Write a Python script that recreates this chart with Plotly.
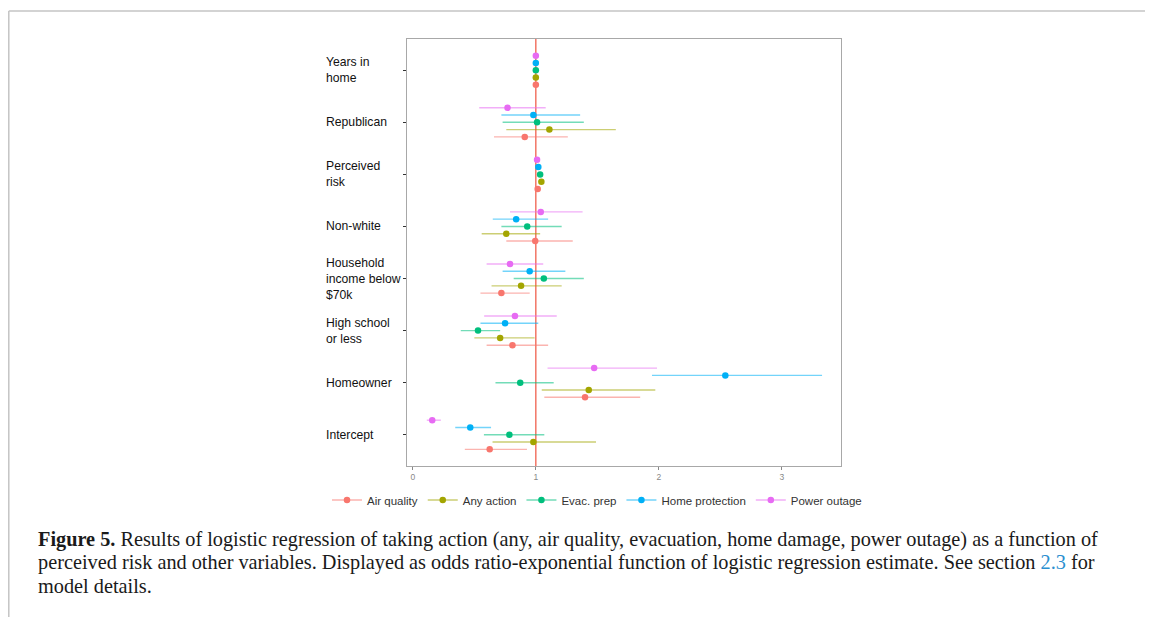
import plotly.graph_objects as go

# ---------------- data ----------------
categories = ["Years in<br>home", "Republican", "Perceived<br>risk", "Non-white",
              "Household<br>income below<br>$70k", "High school<br>or less",
              "Homeowner", "Intercept"]

series_names = ["Air quality", "Any action", "Evac. prep", "Home protection", "Power outage"]
series_colors = ["#F8766D", "#A3A500", "#00BF7D", "#00B0F6", "#E76BF3"]
series_err_colors = ["rgba(248,118,109,0.55)", "rgba(163,165,0,0.55)", "rgba(0,191,125,0.55)",
                     "rgba(0,176,246,0.55)", "rgba(231,107,243,0.55)"]

# odds ratio estimates (per category, top to bottom)
air_quality = [1.00, 0.91, 1.015, 0.995, 0.72, 0.81, 1.40, 0.625]
any_action = [1.00, 1.11, 1.045, 0.76, 0.88, 0.71, 1.43, 0.98]
evac_prep = [1.00, 1.01, 1.035, 0.93, 1.065, 0.53, 0.873, 0.785]
home_protection = [1.00, 0.98, 1.02, 0.84, 0.95, 0.75, 2.54, 0.467]
power_outage = [1.00, 0.77, 1.01, 1.04, 0.79, 0.83, 1.474, 0.158]

air_quality_lo = [0.99, 0.66, 1.005, 0.76, 0.55, 0.60, 1.069, 0.423]
air_quality_hi = [1.01, 1.26, 1.025, 1.30, 0.95, 1.10, 1.848, 0.928]
any_action_lo = [0.99, 0.76, 1.035, 0.56, 0.64, 0.50, 1.048, 0.648]
any_action_hi = [1.01, 1.65, 1.055, 1.035, 1.21, 0.99, 1.971, 1.489]
evac_prep_lo = [0.99, 0.73, 1.025, 0.72, 0.82, 0.39, 0.672, 0.578]
evac_prep_hi = [1.01, 1.39, 1.045, 1.21, 1.39, 0.71, 1.145, 1.069]
home_protection_lo = [0.99, 0.72, 1.01, 0.65, 0.73, 0.55, 1.944, 0.345]
home_protection_hi = [1.01, 1.36, 1.03, 1.10, 1.24, 1.02, 3.326, 0.636]
power_outage_lo = [0.99, 0.54, 1.00, 0.79, 0.60, 0.58, 1.095, 0.114]
power_outage_hi = [1.01, 1.08, 1.02, 1.38, 1.06, 1.17, 1.985, 0.228]

x_tick_vals = [0, 1, 2, 3]
x_tick_text = ["0", "1", "2", "3"]

caption_lines = [
    "<b>Figure 5.</b> Results of logistic regression of taking action (any, air quality, "
    "evacuation, home damage, power outage) as a function of",
    "perceived risk and other variables. Displayed as odds ratio-exponential function of "
    "logistic regression estimate. See section <span style='color:#2a8fd0'>2.3</span> for",
    "model details.",
]

estimates = [air_quality, any_action, evac_prep, home_protection, power_outage]
lows = [air_quality_lo, any_action_lo, evac_prep_lo, home_protection_lo, power_outage_lo]
highs = [air_quality_hi, any_action_hi, evac_prep_hi, home_protection_hi, power_outage_hi]
dodge = [0.28, 0.14, 0.0, -0.14, -0.28]

# ---------------- layout geometry (screen pixels; page body has an 8px margin) ----------------
OFF = 8
W, H = 1153 - OFF, 617 - OFF
L, R, T, B = 407 - OFF, 841 - OFF, 39 - OFF, 466 - OFF
pw, ph = R - L, B - T


def px_x(px):
    return (px - OFF - L) / pw


def px_y(py):
    return (B - (py - OFF)) / ph


fig = go.Figure()

for name, col, ecol, est, lo, hi, dd in zip(series_names, series_colors, series_err_colors,
                                            estimates, lows, highs, dodge):
    ys = [i + dd for i in range(len(categories))]
    fig.add_trace(go.Scatter(
        x=est, y=ys, mode="markers", name=name, legendgroup=name, showlegend=False,
        marker=dict(color=col, size=6.5),
        error_x=dict(type="data", symmetric=False,
                     array=[h - e for h, e in zip(hi, est)],
                     arrayminus=[e - l for e, l in zip(est, lo)],
                     color=ecol, thickness=1.4, width=0),
    ))
    fig.add_trace(go.Scatter(
        x=[None], y=[None], mode="lines+markers", name=name, legendgroup=name,
        line=dict(color=ecol, width=1.4), marker=dict(color=col, size=6.5),
    ))

# reference line at odds ratio 1
fig.add_shape(type="line", xref="x", yref="paper", x0=1, x1=1, y0=0, y1=1,
              line=dict(color="#F0604E", width=1.3), layer="below")

# outer page frame
fig.add_shape(type="line", xref="paper", yref="paper", x0=px_x(8.8), x1=px_x(1160),
              y0=px_y(11), y1=px_y(11), line=dict(color="#c4c4c4", width=1.5))
fig.add_shape(type="line", xref="paper", yref="paper", x0=px_x(8.8), x1=px_x(8.8),
              y0=px_y(11), y1=px_y(630), line=dict(color="#c4c4c4", width=1.5))

# category labels, left aligned
for i, cat in enumerate(categories):
    fig.add_annotation(x=px_x(324), xref="paper", y=i, yref="y", text=cat,
                       xanchor="left", yanchor="middle", align="left", showarrow=False,
                       font=dict(family="Liberation Sans, Arial", size=12.2, color="#111111"))

caption_y = [539, 562.5, 586]
for line, cy in zip(caption_lines, caption_y):
    fig.add_annotation(x=px_x(36), xref="paper", y=px_y(cy), yref="paper", text=line,
                       xanchor="left", yanchor="middle", align="left", showarrow=False,
                       font=dict(family="Liberation Serif, Times New Roman, serif", size=20.3,
                                 color="#1a1a1a"))

fig.update_layout(
    width=W, height=H,
    margin=dict(l=L, r=W - R, t=T, b=H - B, pad=0, autoexpand=False),
    paper_bgcolor="white", plot_bgcolor="white",
    showlegend=True,
    legend=dict(orientation="h", x=px_x(327), xanchor="left",
                y=px_y(500), yanchor="middle",
                font=dict(family="Liberation Sans, Arial", size=11.5, color="#333333"),
                bgcolor="rgba(0,0,0,0)", itemwidth=30, tracegroupgap=0),
    xaxis=dict(range=[-0.047, 3.48], tickvals=x_tick_vals, ticktext=x_tick_text,
               showgrid=False, zeroline=False, showline=True, mirror=True,
               linecolor="#a8a8a8", linewidth=1.3, ticks="outside", ticklen=3,
               tickcolor="#888888", tickfont=dict(family="Liberation Sans, Arial", size=8.5,
                                                  color="#888888")),
    yaxis=dict(range=[7.6, -0.6], tickvals=list(range(len(categories))),
               ticktext=[""] * len(categories),
               showgrid=False, zeroline=False, showline=True, mirror=True,
               linecolor="#a8a8a8", linewidth=1.3, ticks="outside", ticklen=3,
               tickcolor="#333333"),
)

fig.write_html("out.html")
